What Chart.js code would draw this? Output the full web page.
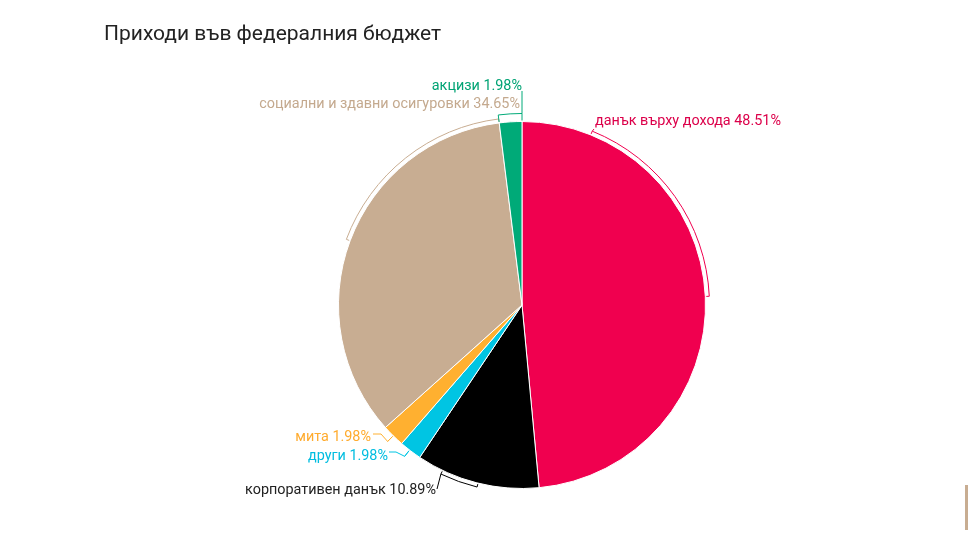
<!DOCTYPE html>
<html>
<head>
<meta charset="utf-8">
<script src="https://cdn.jsdelivr.net/npm/chart.js@4.4.1/dist/chart.umd.min.js"></script>
<style>
  body { margin: 0; background: #fff; }
  #wrap { position: relative; width: 968px; height: 540px; overflow: hidden; }
  #title { position: absolute; left: 104px; top: 21px; font-family: Roboto, sans-serif; font-size: 21px; color: #222; }
  #edge { position: absolute; left: 965px; top: 485px; width: 3px; height: 45px; background: #c8ad92; }
</style>
</head>
<body>
<div id="wrap">
  <canvas id="bieudo"></canvas>
  <div id="title">Приходи във федералния бюджет</div>
  <div id="edge"></div>
</div>
<script>
// Данни
var categories = ['данък върху дохода', 'корпоративен данък', 'други', 'мита', 'социални и здавни осигуровки', 'акцизи'];
var values = [48.51, 10.89, 1.98, 1.98, 34.65, 1.98];
var sliceColors = ['#f0004f', '#000000', '#00c5e3', '#ffb030', '#c8ad92', '#00aa78'];
var textColors = ['#dc004a', '#222222', '#00bde0', '#ffab2e', '#c4a98e', '#00a374'];

// Къде стоят надписите и скобите
var labelLayout = [
  { from: 0.126, to: 0.5, gap: 4, link: 'from', path: [[594, 129]], tx: 595, ty: 121, align: 'left' },
  { from: 0.49, to: 0.79, gap: 4, link: 'to', path: [[437, 489]], tx: 436, ty: 490, align: 'right' },
  { from: 0.55, to: 0.55, gap: 8, link: 'to', path: [[396, 452], [389, 452]], tx: 388, ty: 456, align: 'right' },
  { from: 0.5, to: 0.5, gap: 8, link: 'to', path: [[381, 434], [373, 434]], tx: 371, ty: 437, align: 'right' },
  { from: 0.5, to: 1, gap: 4, link: null, path: [], tx: 520, ty: 104, align: 'right' },
  { from: 0, to: 1, gap: 8, link: 'to', path: [[522, 91]], tx: 522, ty: 86, align: 'right' }
];

var bracketLabels = {
  id: 'bracketLabels',
  afterDatasetsDraw(chart) {
    var ctx = chart.ctx;
    var meta = chart.getDatasetMeta(0);
    meta.data.forEach(function (arc, i) {
      var cfg = labelLayout[i];
      var p = arc.getProps(['x', 'y', 'startAngle', 'endAngle', 'outerRadius'], true);
      var span = p.endAngle - p.startAngle;
      var a0 = p.startAngle + span * cfg.from;
      var a1 = p.startAngle + span * cfg.to;
      var rb = p.outerRadius + cfg.gap;
      var ri = p.outerRadius + 1;
      ctx.save();
      ctx.strokeStyle = sliceColors[i];
      ctx.lineWidth = 1;
      ctx.beginPath();
      ctx.moveTo(p.x + ri * Math.cos(a0), p.y + ri * Math.sin(a0));
      ctx.lineTo(p.x + rb * Math.cos(a0), p.y + rb * Math.sin(a0));
      if (a1 > a0) ctx.arc(p.x, p.y, rb, a0, a1);
      ctx.lineTo(p.x + ri * Math.cos(a1), p.y + ri * Math.sin(a1));
      ctx.stroke();
      if (cfg.link) {
        var a = cfg.link === 'from' ? a0 : a1;
        ctx.beginPath();
        ctx.moveTo(p.x + rb * Math.cos(a), p.y + rb * Math.sin(a));
        cfg.path.forEach(function (pt) { ctx.lineTo(pt[0], pt[1]); });
        ctx.stroke();
      }
      ctx.fillStyle = textColors[i];
      ctx.font = '14.4px Roboto, sans-serif';
      ctx.textAlign = cfg.align;
      ctx.textBaseline = 'middle';
      ctx.fillText(categories[i] + ' ' + values[i].toFixed(2) + '%', cfg.tx, cfg.ty);
      ctx.restore();
    });
  }
};

new Chart(document.getElementById('bieudo'), {
  type: 'pie',
  data: {
    labels: categories,
    datasets: [{
      data: values,
      backgroundColor: sliceColors,
      borderColor: '#ffffff',
      borderWidth: 1
    }]
  },
  options: {
    responsive: true,
    maintainAspectRatio: false,
    animation: false,
    layout: { padding: { top: 121, bottom: 51, left: 338, right: 262 } },
    plugins: {
      legend: { display: false },
      tooltip: { enabled: false }
    }
  },
  plugins: [bracketLabels]
});
</script>
</body>
</html>
